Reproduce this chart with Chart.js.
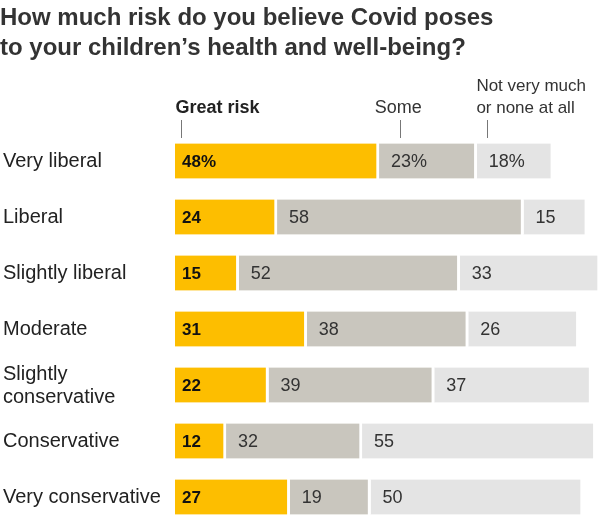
<!DOCTYPE html>
<html>
<head>
<meta charset="utf-8">
<script src="https://cdn.jsdelivr.net/npm/chart.js@4"></script>
<style>
  html, body { margin: 0; padding: 0; background: #fff; }
  #wrap { width: 600px; height: 529px; position: relative; }
</style>
</head>
<body>
<div id="wrap"><canvas id="myChart"></canvas></div>
<script>
// data
let categories = ['Very liberal', 'Liberal', 'Slightly liberal', 'Moderate', 'Slightly conservative', 'Conservative', 'Very conservative'];
let greatRisk = [48, 24, 15, 31, 22, 12, 27];
let someRisk = [23, 58, 52, 38, 39, 32, 19];
let notMuch = [18, 15, 33, 26, 37, 55, 50];
let seriesNames = ['Great risk', 'Some', 'Not very much or none at all'];
let titleLines = ['How much risk do you believe Covid poses', 'to your children\u2019s health and well-being?'];

const FONT = '"Liberation Sans", Arial, sans-serif';

// split long category names the way the reference does
function catLines(name) {
  if (name == 'Slightly conservative') return ['Slightly', 'conservative'];
  return [name];
}

const labelsPlugin = {
  id: 'labelsPlugin',
  afterDraw(chart) {
    let ctx = chart.ctx;
    let yScale = chart.scales.y;
    let xScale = chart.scales.x;
    ctx.save();

    // title
    ctx.fillStyle = '#333';
    ctx.font = 'bold 24px ' + FONT;
    ctx.textBaseline = 'middle';
    ctx.textAlign = 'left';
    ctx.fillText(titleLines[0], 0, 18);
    ctx.fillText(titleLines[1], 0, 48);

    // category labels
    ctx.font = '20px ' + FONT;
    ctx.fillStyle = '#222';
    categories.forEach(function(c, i) {
      let y = yScale.getPixelForValue(i);
      let lines = catLines(c);
      if (lines.length == 2) {
        ctx.fillText(lines[0], 3, y - 11);
        ctx.fillText(lines[1], 3, y + 12);
      } else {
        ctx.fillText(lines[0], 3, y);
      }
    });

    // series headers with small tick marks
    ctx.strokeStyle = '#777';
    ctx.lineWidth = 1;
    let tickX = [xScale.getPixelForValue(1.5), xScale.getPixelForValue(53), xScale.getPixelForValue(73.5)];
    tickX.forEach(function(x) {
      x = Math.round(x) + 0.5;
      ctx.beginPath();
      ctx.moveTo(x, 120);
      ctx.lineTo(x, 138);
      ctx.stroke();
    });
    ctx.fillStyle = '#222';
    ctx.font = 'bold 18px ' + FONT;
    ctx.fillText(seriesNames[0], tickX[0] - 6, 108);
    ctx.font = '18px ' + FONT;
    ctx.fillStyle = '#333';
    ctx.textAlign = 'center';
    ctx.fillText(seriesNames[1], tickX[1] - 2, 108);
    ctx.textAlign = 'left';
    ctx.font = '17px ' + FONT;
    ctx.fillText('Not very much', tickX[2] - 11, 86);
    ctx.fillText('or none at all', tickX[2] - 11, 108);

    // values inside the bars
    chart.data.datasets.forEach(function(ds, di) {
      let meta = chart.getDatasetMeta(di);
      ctx.font = (di == 0 ? 'bold 17px ' : '18px ') + FONT;
      ctx.fillStyle = di == 0 ? '#111' : '#333';
      meta.data.forEach(function(bar, i) {
        let txt = ds.data[i] + (i == 0 ? '%' : '');
        let x = Math.min(bar.base, bar.x) + (di == 0 ? 7 : 12);
        ctx.fillText(txt, x, bar.y + 1);
      });
    });
    ctx.restore();
  }
};

let chart = document.getElementById('myChart');

const config = {
  type: 'bar',
  data: {
    labels: categories,
    datasets: [
      { label: seriesNames[0], data: greatRisk, backgroundColor: '#fdbe00' },
      { label: seriesNames[1], data: someRisk, backgroundColor: '#c9c6be' },
      { label: seriesNames[2], data: notMuch, backgroundColor: '#e4e4e4' }
    ]
  },
  options: {
    indexAxis: 'y',
    responsive: true,
    maintainAspectRatio: false,
    animation: false,
    datasets: {
      bar: {
        barThickness: 35,
        borderColor: '#fff',
        borderWidth: { left: 0, right: 3, top: 0, bottom: 0 },
        borderSkipped: false
      }
    },
    layout: { padding: { left: 175, top: 133, bottom: 4, right: 0 } },
    plugins: {
      legend: { display: false },
      title: { display: false },
      tooltip: { enabled: false }
    },
    scales: {
      x: { stacked: true, min: 0, max: 100, display: false },
      y: { stacked: true, display: false }
    }
  },
  plugins: [labelsPlugin]
};

var myChart = new Chart(chart, config);
</script>
</body>
</html>
